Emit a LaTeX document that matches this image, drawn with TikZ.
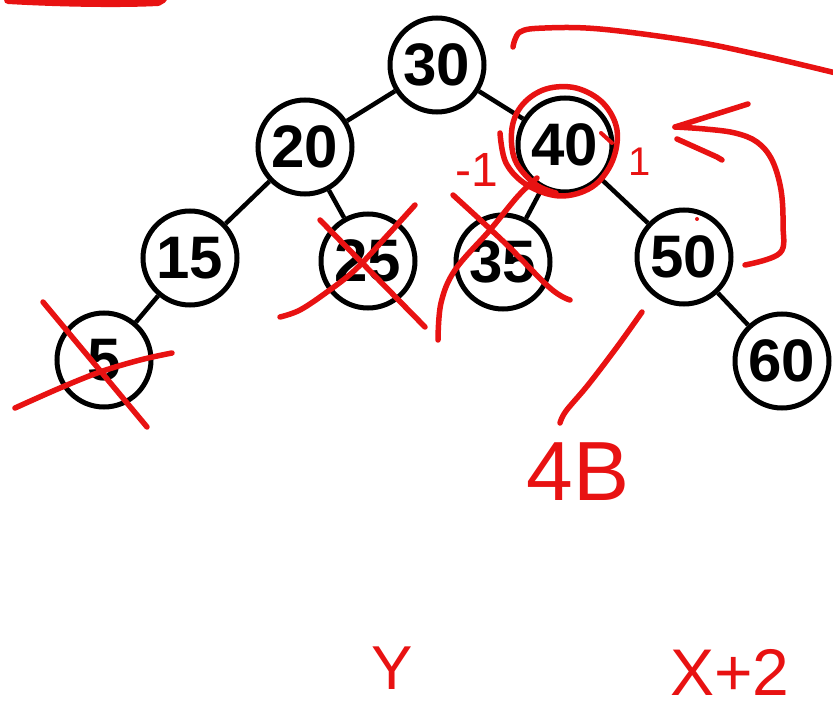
\documentclass[tikz,border=0pt]{standalone}
\usepackage{fontspec}
\setmainfont{Liberation Sans}
\definecolor{inkred}{RGB}{232,18,18}
\begin{document}
\begin{tikzpicture}[x=1pt,y=-1pt,
  key/.style={circle,draw=black,line width=5pt,minimum size=94pt,inner sep=0pt,fill=white,
    font=\fontsize{60}{60}\selectfont\bfseries},
  link/.style={line width=4.5pt,draw=black},
  ink/.style={draw=inkred,line width=5.5pt,line cap=round,line join=round},
  note/.style={text=inkred,inner sep=0pt}]
\useasboundingbox (0,0) rectangle (833,711);

% tree nodes
\node[key] (n30) at (437,65) {30};
\node[key] (n20) at (305,147) {20};
\node[key] (n40) at (565,145) {40};
\node[key] (n15) at (190,258) {15};
\node[key] (n25) at (368,261) {25};
\node[key] (n35) at (503,262) {35};
\node[key] (n50) at (684,257) {50};
\node[key] (n5)  at (104,360) {5};
\node[key] (n60) at (782,361) {60};

% tree edges
\draw[link] (n30) -- (n20);
\draw[link] (n30) -- (n40);
\draw[link] (n20) -- (n15);
\draw[link] (n20) -- (n25);
\draw[link] (n40) -- (n35);
\draw[link] (n40) -- (n50);
\draw[link] (n15) -- (n5);
\draw[link] (n50) -- (n60);

% red handwriting strokes
\draw[ink,line width=8pt] (8,0) .. controls (60,3) and (120,4) .. (158,2) -- (163,-1);
\draw[ink] plot[smooth,tension=0.6] coordinates {(513,47) (520,32) (545,28) (600,29) (691,41) (760,55) (840,74)};
% circle round 40
\draw[ink] plot[smooth,tension=0.6] coordinates {(500,133) (506,163) (527,185) (560,196) (592,187) (612,162) (617,130) (603,103) (576,88) (546,89) (523,104) (512,128) (515,160) (535,184) (556,193)};
\draw[ink,line width=4pt] (601,133) -- (612,143);
% arrow from 50 up to 40
\draw[ink] plot[smooth,tension=0.6] coordinates {(745,265) (780,253) (783,225) (781,190) (772,160) (757,142) (735,133) (705,129) (675,127)};
\draw[ink] (675,127) -- (748,104);
\draw[ink] (677,139) -- (717,157) -- (722,160);
\fill[inkred] (697,219) circle (2pt);
% slash below 50
\draw[ink] plot[smooth,tension=0.6] coordinates {(642,312) (617,347) (588,385) (566,411) (560,423)};
% crosses
\draw[ink] (43,302) -- (147,427);
\draw[ink] plot[smooth,tension=0.6] coordinates {(15,408) (60,388) (100,372) (140,360) (172,353)};
\draw[ink] (320,220) -- (425,327);
\draw[ink] plot[smooth,tension=0.6] coordinates {(415,205) (385,238) (355,270) (327,292) (300,310) (280,317)};
\draw[ink] plot[smooth,tension=0.6] coordinates {(453,195) (505,243) (550,288) (570,300)};
\draw[ink] plot[smooth,tension=0.6] coordinates {(438,340) (441,303) (455,270) (490,230) (518,196) (537,178)};

% red notes
\node[note,font=\fontsize{48}{48}\selectfont] (m1) at (477,170) {-1};
\node[note,font=\fontsize{40}{40}\selectfont] (p1) at (640,162) {1};
\node[note,font=\fontsize{84}{84}\selectfont] (lb) at (578,472) {4B};
\node[note,font=\fontsize{62}{62}\selectfont] (yy) at (392,668) {Y};
\node[note,font=\fontsize{66}{66}\selectfont] (x2) at (730,672) {X+2};
\end{tikzpicture}
\end{document}
